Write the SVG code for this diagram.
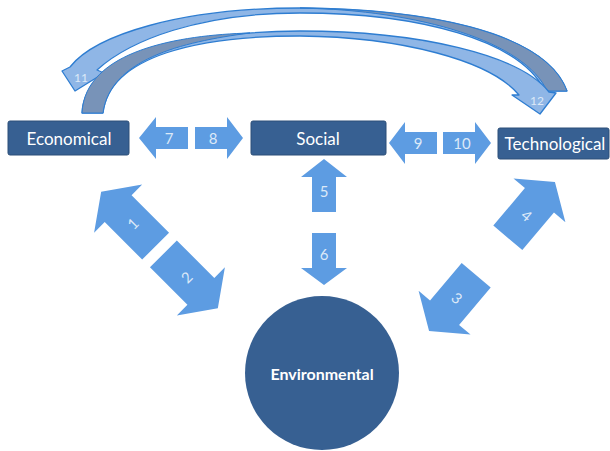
<svg xmlns="http://www.w3.org/2000/svg" width="610" height="451" viewBox="0 0 610 451">
<style>
.box{fill:#376092;stroke:#2c4f78;stroke-width:1}
.lbl{font-family:Lato,"Open Sans","Liberation Sans",sans-serif;font-size:17px;fill:#ffffff;text-anchor:middle;dominant-baseline:central}
.arr{fill:#5d9ce2}
.num{font-family:Lato,"Open Sans","Liberation Sans",sans-serif;font-size:15px;fill:#dce9f8;text-anchor:middle;dominant-baseline:central}
.band{fill:#8fb6e6;stroke:#2e7dd1;stroke-width:1.3;stroke-linejoin:round}
.under{fill:#7893b8;stroke:#2e7dd1;stroke-width:1}
</style>
<g id="connectors">
  <g id="arrow11">
    <path class="band" d="M567,91 C545,30 420,9 300,8 C180,8 95,35 70,67 L62,71 L75,91 L104,73 L97,70 C130,40 200,13 300,13 C420,13 520,40 545,91 Z"/>
    <path class="under" d="M567,91 C545,30 420,9 300,8 C420,10 525,42 547,91 Z"/>
    <text class="num" x="81" y="77" style="font-size:12px">11</text>
  </g>
  <g id="arrow12">
    <path class="band" d="M82,113 C85,50 200,32 300,31 C420,31 520,55 549,92 L556,93 L540,114 L512,95 L519,95 C490,60 400,37 300,36 C200,36 110,55 103,113 Z"/>
    <path class="under" d="M82,113 C85,50 180,35 250,33 C180,42 110,60 103,113 Z"/>
    <text class="num" x="537" y="100" style="font-size:12px">12</text>
  </g>
  <g id="arrow7"><polygon class="arr" points="188,127 156,127 156,117 139,138 156,159 156,149 188,149"/><text class="num" x="169" y="138">7</text></g>
  <g id="arrow8"><polygon class="arr" points="195,127 227,127 227,117 243,138 227,159 227,149 195,149"/><text class="num" x="213" y="138">8</text></g>
  <g id="arrow9"><polygon class="arr" points="437,132 405,132 405,122 389,143 405,164 405,154 437,154"/><text class="num" x="418" y="143">9</text></g>
  <g id="arrow10"><polygon class="arr" points="443,132 475,132 475,122 491,143 475,164 475,154 443,154"/><text class="num" x="462" y="143">10</text></g>
  <g id="arrow5"><polygon class="arr" points="312,212 312,177 301,177 324,159 347,177 336,177 336,212"/><text class="num" x="324" y="191">5</text></g>
  <g id="arrow6"><polygon class="arr" points="312,233 336,233 336,268 347,268 324,285 301,268 312,268"/><text class="num" x="324" y="254">6</text></g>
  <g transform="translate(159.5,250) rotate(45)">
    <g id="arrow1"><polygon class="arr" points="-5.5,-19 -58.5,-19 -58.5,-34 -82.5,0 -58.5,34 -58.5,19 -5.5,19"/><text class="num" transform="translate(-38,0) rotate(-90)">1</text></g>
    <g id="arrow2"><polygon class="arr" points="5.5,-19 58.5,-19 58.5,-34 82.5,0 58.5,34 58.5,19 5.5,19"/><text class="num" transform="translate(38,0) rotate(-90)">2</text></g>
  </g>
  <g transform="translate(492,256.5) rotate(-49.8)">
    <g id="arrow4"><polygon class="arr" points="24.5,-19 73.5,-19 73.5,-34 97.5,0 73.5,34 73.5,19 24.5,19"/><text class="num" transform="translate(54,0) rotate(90)">4</text></g>
    <g id="arrow3"><polygon class="arr" points="-24.5,-19 -73.5,-19 -73.5,-34 -97.5,0 -73.5,34 -73.5,19 -24.5,19"/><text class="num" transform="translate(-54,0) rotate(90)">3</text></g>
  </g>
</g>
<g id="economical"><rect class="box" x="8" y="121" width="121" height="34" rx="2"/><text class="lbl" x="69" y="138">Economical</text></g>
<g id="social"><rect class="box" x="251" y="121" width="135" height="34" rx="2"/><text class="lbl" x="318" y="138">Social</text></g>
<g id="technological"><rect class="box" x="498" y="128" width="111" height="31" rx="2"/><text class="lbl" x="555" y="143">Technological</text></g>
<g id="environmental"><circle cx="322" cy="373" r="77" fill="#376092"/><text class="lbl" x="322" y="373" style="font-size:16px;font-weight:bold">Environmental</text></g>
</svg>
